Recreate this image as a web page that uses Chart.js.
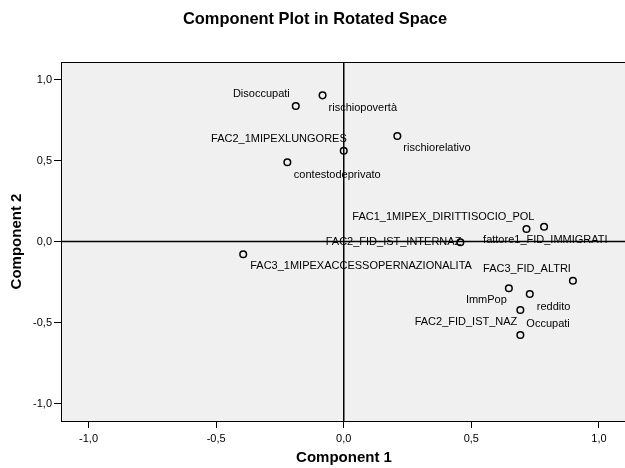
<!DOCTYPE html>
<html>
<head>
<meta charset="utf-8">
<script src="https://cdn.jsdelivr.net/npm/chart.js@4/dist/chart.umd.min.js"></script>
<style>
  html, body { margin: 0; padding: 0; background: #ffffff; overflow: hidden; }
  #wrap { width: 632px; height: 468px; }
</style>
</head>
<body>
<div id="wrap"><canvas id="c" width="632" height="468"></canvas></div>
<script>
// ---- data ----
const variableNames = [
  'Disoccupati', 'rischiopovertà', 'FAC2_1MIPEXLUNGORES', 'contestodeprivato',
  'rischiorelativo', 'FAC1_1MIPEX_DIRITTISOCIO_POL', 'fattore1_FID_IMMIGRATI',
  'FAC2_FID_IST_INTERNAZ', 'FAC3_1MIPEXACCESSOPERNAZIONALITA', 'FAC3_FID_ALTRI',
  'ImmPop', 'reddito', 'Occupati', 'FAC2_FID_IST_NAZ'
];
const component1 = [-0.188, -0.083, 0.000, -0.221, 0.210, 0.716, 0.785, 0.457, -0.394, 0.898, 0.647, 0.729, 0.692, 0.692];
const component2 = [0.836, 0.902, 0.560, 0.489, 0.651, 0.077, 0.091, -0.005, -0.079, -0.242, -0.289, -0.324, -0.423, -0.577];
const tickValues = [-1.0, -0.5, 0.0, 0.5, 1.0];
const tickLabels = ['-1,0', '-0,5', '0,0', '0,5', '1,0'];
const axisMin = -1.108;
const axisMax = 1.108;
const chartTitle = 'Component Plot in Rotated Space';
const xTitle = 'Component 1';
const yTitle = 'Component 2';

// label placement relative to each point (pixels): [dx, dy, align]
const labelPlacement = [
  [-6, -12, 'right'], [6, 13, 'left'], [3, -12, 'right'], [6.5, 13, 'left'],
  [6, 12, 'left'], [8, -12, 'right'], [-61, 13, 'left'],
  [1, 0, 'right'], [7, 12, 'left'], [-2, -12, 'right'],
  [-2, 12, 'right'], [7, 13, 'left'], [6, 14, 'left'], [-3, -13, 'right']
];

const FONT = '"Liberation Sans", Arial, Helvetica, sans-serif';

const points = variableNames.map((n, i) => ({ x: component1[i], y: component2[i] }));

const decorPlugin = {
  id: 'decor',
  beforeDraw(chart) {
    const { ctx, chartArea: a } = chart;
    ctx.save();
    ctx.fillStyle = '#ffffff';
    ctx.fillRect(0, 0, chart.width, chart.height);
    ctx.fillStyle = '#f0f0f0';
    ctx.fillRect(a.left, a.top, a.right - a.left, a.bottom - a.top);
    ctx.restore();
  },
  beforeDatasetsDraw(chart) {
    const { ctx, chartArea: a, scales } = chart;
    const x0 = scales.x.getPixelForValue(0);
    const y0 = scales.y.getPixelForValue(0);
    ctx.save();
    ctx.strokeStyle = '#000';
    ctx.lineWidth = 1.5;
    ctx.beginPath();
    ctx.moveTo(x0, a.top); ctx.lineTo(x0, a.bottom);
    ctx.moveTo(a.left, y0); ctx.lineTo(a.right, y0);
    ctx.stroke();
    ctx.restore();
  },
  afterDatasetsDraw(chart) {
    const { ctx } = chart;
    const meta = chart.getDatasetMeta(0);
    ctx.save();
    ctx.font = '11px ' + FONT;
    ctx.fillStyle = '#000';
    ctx.textBaseline = 'middle';
    meta.data.forEach((el, i) => {
      const p = labelPlacement[i];
      ctx.textAlign = p[2];
      ctx.fillText(variableNames[i], el.x + p[0], el.y + p[1]);
    });
    ctx.restore();
  },
  afterDraw(chart) {
    const { ctx, chartArea: a } = chart;
    ctx.save();
    ctx.strokeStyle = '#000';
    ctx.lineWidth = 1;
    ctx.strokeRect(Math.round(a.left) + 0.5, Math.round(a.top) + 0.5, a.right - a.left, a.bottom - a.top);
    ctx.fillStyle = '#000';
    ctx.textAlign = 'center';
    ctx.textBaseline = 'middle';
    ctx.font = 'bold 16.4px ' + FONT;
    ctx.fillText(chartTitle, 315, 19);
    ctx.font = 'bold 15px ' + FONT;
    ctx.fillText(xTitle, 344, 458);
    ctx.translate(17, (a.top + a.bottom) / 2);
    ctx.rotate(-Math.PI / 2);
    ctx.fillText(yTitle, 0, 0);
    ctx.restore();
  }
};

function axisOptions(isX) {
  return {
    type: 'linear',
    min: axisMin,
    max: axisMax,
    afterBuildTicks(scale) { scale.ticks = tickValues.map(v => ({ value: v })); },
    afterFit(scale) {
      if (isX) scale.height = 47; else scale.width = 61;
    },
    grid: {
      display: true,
      drawOnChartArea: false,
      drawTicks: true,
      tickLength: 7,
      tickColor: '#000',
      tickWidth: 1
    },
    border: { display: true, color: '#000', width: 1 },
    ticks: {
      color: '#000',
      font: { family: FONT, size: 11 },
      padding: isX ? 4 : 2,
      autoSkip: false,
      maxRotation: 0,
      callback: (value, index) => tickLabels[index]
    },
    title: { display: false }
  };
}

new Chart(document.getElementById('c'), {
  type: 'scatter',
  data: {
    datasets: [{
      data: points,
      pointStyle: 'circle',
      pointRadius: 3.3,
      pointBorderWidth: 1.5,
      borderColor: '#000',
      backgroundColor: 'rgba(0,0,0,0)',
      pointBorderColor: '#000',
      pointBackgroundColor: 'rgba(0,0,0,0)',
      showLine: false
    }]
  },
  options: {
    responsive: false,
    devicePixelRatio: 1,
    animation: false,
    layout: { padding: { top: 62, right: 3, left: 0, bottom: 0 } },
    plugins: { legend: { display: false }, tooltip: { enabled: false }, title: { display: false } },
    scales: { x: axisOptions(true), y: axisOptions(false) }
  },
  plugins: [decorPlugin]
});
</script>
</body>
</html>
